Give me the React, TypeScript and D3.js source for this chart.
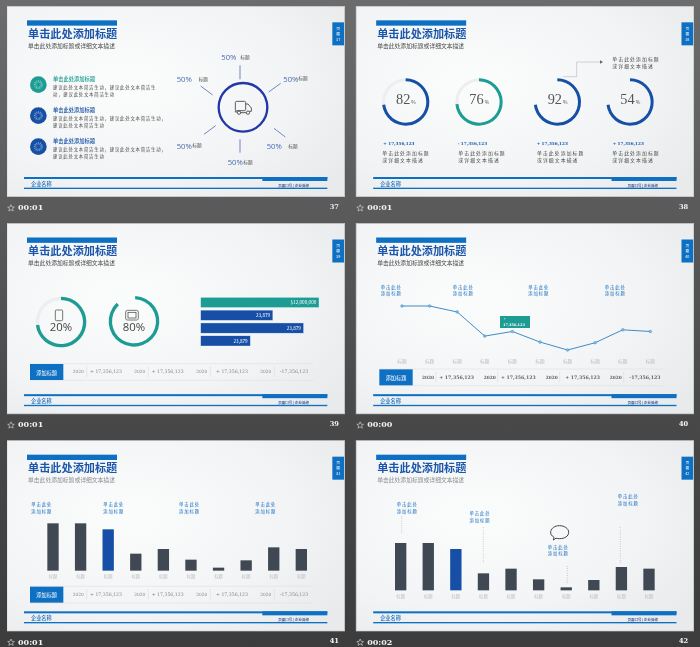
import React from "react";
import * as d3 from "d3";

const slideNumbers = ["37", "38", "39", "40", "41", "42"];
const slideTimes = ["00:01", "00:01", "00:01", "00:00", "00:01", "00:02"];
const slideTitle = "单击此处添加标题";
const slideSubtitle = "单击此处添加标题或详细文本描述";
const companyName = "企业名称";
const footerSlogan = "页面口号 | 企业简称";

const spokeLabels = ["50%", "50%", "50%", "50%", "50%", "50%"];
const listHeading = "单击此处添加标题";
const listBodyA = ["建议此处文本简洁生动，建议此处文本简洁生", "动，建议此处文本简洁生动"];
const listBodyB = ["建议此处文本简洁生动，建议此处文本简洁生动，", "建议此处文本简洁生动"];

const ringLabels = ["82", "76", "92", "54"];
const ringShares = [0.73, 0.735, 0.73, 0.73];
const ringStats = ["+ 17,356,123", "- 17,356,123", "+ 17,356,123", "+ 17,356,123"];
const descLines = ["单击此处添加标题", "或详细文本描述"];

const deviceLabels = ["20%", "80%"];
const deviceShares = [0.73, 0.88];
const hbarValues = [100, 61, 87, 42];
const hbarLabels = ["$12,000,000", "23,879", "23,879", "23,879"];
const tableYears = ["2020", "2020", "2020", "2020"];
const tableValues = ["+ 17,356,123", "+ 17,356,123", "+ 17,356,123", "-17,356,123"];
const tableHead = "添加标题";

const categories = ["c1", "c2", "c3", "c4", "c5", "c6", "c7", "c8", "c9", "c10"];
const seriesValues = [142, 142, 124, 51, 65, 33, 9, 31, 70, 65];
const categoryLabel = "标题";
const calloutLines = ["单击此处", "添加标题"];

const BLUE = "#0d6fc3";
const NAVY = "#1450a5";
const TEAL = "#1a9c93";
const CJK = "'Noto Sans CJK SC', sans-serif";
const SERIF = "'DejaVu Serif', serif";

type TP = { x: number; y: number; s: number; f?: string; a?: any; w?: any; fam?: string; children: any };
function T({ x, y, s, f = "#444", a = "start", w = 400, fam = CJK, children }: TP) {
  return (
    <text x={x} y={y} fontSize={s} fill={f} textAnchor={a} fontWeight={w} fontFamily={fam} dominantBaseline="central">
      {children}
    </text>
  );
}

function Multi({ x, y, s, f, lh, lines, a = "start", w = 400, ls = 0 }: any) {
  return (
    <g>
      {lines.map((l: string, j: number) => (
        <text
          key={j}
          x={x}
          y={y + j * lh}
          fontSize={s}
          fill={f}
          textAnchor={a}
          fontWeight={w}
          fontFamily={CJK}
          letterSpacing={ls}
          dominantBaseline="central"
        >
          {l}
        </text>
      ))}
    </g>
  );
}

function Chrome({ i, cx, cy, row, col, faint }: { i: number; cx: number; cy: number; row: number; col: number; faint?: boolean }) {
  const dx = col ? -2.5 : 0;
  const dy = [0, 6.5, 13][row];
  return (
    <g transform={`translate(${cx},${cy}) scale(${1 / 3}) translate(${dx},${dy})`}>
      <rect x={21} y={19} width={1013} height={571} fill="url(#panel)" stroke="#c9ced3" strokeWidth={2} />
      <rect x={81} y={61} width={270} height={16} fill={BLUE} />
      <T x={84} y={98} s={33.5} f="#1b56aa" w={700}>{slideTitle}</T>
      <T x={84} y={135} s={17.4} f={faint ? "#8a8f94" : "#4a4a4a"}>{slideSubtitle}</T>
      <rect x={997} y={67} width={35} height={69} fill={BLUE} />
      <Multi x={1014.5} y={84} s={11.5} f="#fff" a="middle" lh={17} lines={["页", "面", slideNumbers[i]]} />
      <rect x={72} y={531} width={910} height={6} fill={BLUE} />
      <rect x={787} y={531} width={195} height={12} fill={BLUE} />
      <rect x={72} y={563} width={910} height={4} fill={BLUE} />
      <T x={93} y={551} s={15.5} f="#1b6fbf" w={500}>{companyName}</T>
      <T x={835} y={555} s={10.5} f="#1b3f80" w={500}>{footerSlogan}</T>
      <path
        d="M33 614l3 7 7 .5-5.500 4.500 2 7-6.500-4-6.500 4 2-7-5.500-4.500 7-.5z"
        fill="none"
        stroke="#ddd"
        strokeWidth={1.8}
      />
      <T x={54} y={622} s={24} f="#f2f2f2" w={700} fam={SERIF}>{slideTimes[i]}</T>
      <T x={1017} y={621} s={20} f="#f2f2f2" w={700} a="end" fam={SERIF}>{slideNumbers[i]}</T>
    </g>
  );
}

function Gear({ x, y, r, fill }: { x: number; y: number; r: number; fill: string }) {
  return (
    <g>
      <circle cx={x} cy={y} r={r} fill={fill} />
      <circle cx={x} cy={y} r={r * 0.44} fill="none" stroke="#ffffff" strokeOpacity={0.45} strokeWidth={5} strokeDasharray="3 2.5" />
      <circle cx={x} cy={y} r={r * 0.28} fill="none" stroke="#ffffff" strokeOpacity={0.35} strokeWidth={1.5} />
    </g>
  );
}

function Slide37() {
  const rows = [254, 347, 440];
  const colors = [TEAL, NAVY, NAVY];
  const rays = [
    [720, 196, 720, 238],
    [842, 250, 806, 276],
    [822, 385, 856, 411],
    [720, 418, 720, 458],
    [647, 377, 612, 403],
    [638, 285, 602, 258],
  ];
  const pct = [[664, 172], [530, 236], [850, 236], [800, 437], [530, 437], [683, 486]];
  const tags = [[721, 171], [596, 237], [895, 235], [865, 437], [577, 436], [730, 487]];
  return (
    <g>
      {rows.map((y, k) => (
        <g key={k}>
          <Gear x={115} y={y} r={25} fill={colors[k]} />
          <T x={159} y={y - 17} s={15.8} f={k ? NAVY : TEAL} w={500}>{listHeading}</T>
          <Multi x={159} y={y + 8} s={13.1} ls={2.4} f="#4a4a4a" lh={19} lines={k ? listBodyB : listBodyA} />
        </g>
      ))}
      <circle cx={729} cy={322} r={73} fill="none" stroke="#2238a8" strokeWidth={7} />
      {rays.map((r, k) => (
        <line key={k} x1={r[0]} y1={r[1]} x2={r[2]} y2={r[3]} stroke="#5570b8" strokeWidth={2.5} />
      ))}
      {spokeLabels.map((l, k) => (
        <g key={k}>
          <T x={pct[k][0]} y={pct[k][1]} s={23} f="#4a6db2" fam="'Open Sans', sans-serif">{l}</T>
          <T x={tags[k][0]} y={tags[k][1]} s={14} f="#555">{categoryLabel}</T>
        </g>
      ))}
      <g fill="none" stroke="#444" strokeWidth={2.6} strokeLinejoin="round">
        <rect x={706} y={304} width={31} height={28} rx={4} />
        <path d="M737 312h7l10 12v10h-6M721 338h18M706 332v4h6" />
        <circle cx={717} cy={338} r={5} />
        <circle cx={744} cy={338} r={5} />
      </g>
    </g>
  );
}

function Ring({ x, y, share, color, track, r0, r1, start = 0 }: any) {
  const arc = d3.arc();
  const d = arc({ innerRadius: r0, outerRadius: r1, startAngle: start, endAngle: share * 2 * Math.PI }) as string;
  const t = arc({ innerRadius: r0, outerRadius: r1, startAngle: 0, endAngle: 2 * Math.PI }) as string;
  return (
    <g transform={`translate(${x},${y})`}>
      {track && <path d={t} fill="#eceef0" />}
      <path d={d} fill={color} />
    </g>
  );
}

function Slide38() {
  const xs = [167, 387, 622, 840];
  const colors = [NAVY, TEAL, NAVY, NAVY];
  const statX = [100, 323, 560, 788];
  const descX = [97, 325, 561, 787];
  return (
    <g>
      {xs.map((x, k) => (
        <g key={k}>
          <Ring x={x} y={306} share={ringShares[k]} color={colors[k]} track={k < 2} r0={62} r1={71} />
          <T x={x - 29} y={297} s={43} f="#555" fam="'Liberation Serif', serif">{ringLabels[k]}</T>
          <T x={x + 17} y={304} s={15} f="#555">%</T>
          <T x={statX[k]} y={431} s={12.6} f="#1f5fae" w={700} fam={SERIF}>{ringStats[k]}</T>
          <Multi x={descX[k]} y={456} s={14.4} ls={3.4} f="#4a4a4a" lh={21} lines={descLines} />
        </g>
      ))}
      <path d="M640 230h40v-44h70" fill="none" stroke="#aab0b6" strokeWidth={1.6} />
      <path d="M750 181l9 5-9 5z" fill="#666" />
      <Multi x={787} y={176} s={14.4} ls={3.4} f="#4a4a4a" lh={21} lines={descLines} />
    </g>
  );
}

function Strip({ y, x0, strong }: { y: number; x0: number; strong?: boolean }) {
  const yearX = [218, 403, 589, 781];
  const divX = [260, 445, 631, 823];
  const valX = [270, 455, 648, 840];
  const off = x0 - 90;
  const fill = strong ? "#666" : "#888";
  return (
    <g>
      <line x1={x0} x2={940} y1={y - 24} y2={y - 24} stroke="#dfe2e5" strokeWidth={2} />
      <line x1={x0} x2={940} y1={y + 26} y2={y + 26} stroke="#dfe2e5" strokeWidth={2} />
      <rect x={x0} y={y - 23} width={100} height={48} fill={BLUE} />
      <T x={x0 + 50} y={y + 1} s={15.5} f="#fff" a="middle">{tableHead}</T>
      {tableYears.map((yr, k) => (
        <g key={k}>
          <T x={yearX[k] + off} y={y} s={13} f={fill} w={strong ? 700 : 400} fam={SERIF}>{yr}</T>
          <line x1={divX[k] + off} x2={divX[k] + off} y1={y - 16} y2={y + 16} stroke="#d5d8db" strokeWidth={1.5} />
          <T x={valX[k] + off} y={y} s={14} f={fill} w={strong ? 700 : 400} fam={SERIF}>{tableValues[k]}</T>
        </g>
      ))}
    </g>
  );
}

function Slide39() {
  const bx = d3.scaleLinear().domain([0, 100]).range([602, 957]);
  const ys = d3.scaleBand().domain(hbarLabels.map((_, k) => String(k))).range([247, 393]).paddingInner(0.2);
  const ringX = [183, 402];
  const ringY = [321, 319];
  return (
    <g>
      {ringX.map((x, k) => (
        <g key={k}>
          <Ring x={x} y={ringY[k]} share={deviceShares[k]} color={TEAL} track={k === 0} r0={66} r1={76} start={k ? 0.05 : 0} />
          <T x={x} y={335} s={34} f="#444" a="middle" fam="'Open Sans', sans-serif">{deviceLabels[k]}</T>
        </g>
      ))}
      <g fill="none" stroke="#555" strokeWidth={2.4}>
        <rect x={166} y={285} width={22} height={32} rx={3} />
        <rect x={377} y={286} width={38} height={29} rx={5} />
        <rect x={384} y={292} width={24} height={17} />
      </g>
      {hbarValues.map((v, k) => (
        <g key={k}>
          <rect
            x={bx(0)}
            y={ys(String(k))}
            width={bx(v) - bx(0)}
            height={ys.bandwidth()}
            fill={k ? NAVY : TEAL}
            stroke="#ffffff"
            strokeOpacity={0.7}
            strokeWidth={1.5}
          />
          <T x={bx(v) - 8} y={(ys(String(k)) as number) + ys.bandwidth() / 2} s={14} f="#fff" a="end">{hbarLabels[k]}</T>
        </g>
      ))}
      <Strip y={470} x0={90} />
    </g>
  );
}

function Callout({ x, y, a = "start" }: { x: number; y: number; a?: string }) {
  return <Multi x={x} y={y} s={13} ls={2.8} f="#1b6fbf" a={a} lh={19} lines={calloutLines} />;
}

function Slide40() {
  const x = d3.scalePoint().domain(categories).range([156, 901]);
  const y = d3.scaleLinear().domain([9, 142]).range([405, 273]);
  const line = d3.line<number>().x((_, k) => x(categories[k]) as number).y((v) => y(v));
  return (
    <g>
      {[92, 308, 535, 764].map((cxx, k) => (
        <Callout key={k} x={cxx} y={216} />
      ))}
      <path d={line(seriesValues) as string} fill="none" stroke="#3f8cc8" strokeWidth={3} />
      {seriesValues.map((v, k) => (
        <g key={k}>
          <circle cx={x(categories[k])} cy={y(v)} r={4} fill="#8dbbe0" stroke="#3f8cc8" strokeWidth={1.5} />
          <T x={x(categories[k]) as number} y={438} s={14} f="#bcc0c4" a="middle">{categoryLabel}</T>
        </g>
      ))}
      <rect x={450} y={303} width={90} height={36} fill={TEAL} />
      <T x={461} y={311} s={10} f="#fff">+</T>
      <T x={459} y={329} s={10.5} f="#fff" w={700} fam={SERIF}>17,356,123</T>
      <Strip y={486} x0={88} strong />
    </g>
  );
}

function Bars({ x0, x1, base, labelY }: { x0: number; x1: number; base: number; labelY: number }) {
  const x = d3.scalePoint().domain(categories).range([x0, x1]);
  const y = d3.scaleLinear().domain([0, 142]).range([base, base - 142]);
  const bw = 34;
  return (
    <g>
      {seriesValues.map((v, k) => (
        <g key={k}>
          <rect
            x={(x(categories[k]) as number) - bw / 2}
            y={y(v)}
            width={bw}
            height={base - y(v)}
            fill={k === 2 ? NAVY : "#3f4a52"}
          />
          <T x={x(categories[k]) as number} y={labelY} s={13} f="#bcc0c4" a="middle">{categoryLabel}</T>
        </g>
      ))}
    </g>
  );
}

function Slide41() {
  return (
    <g>
      {[94, 310, 537, 766].map((cxx, k) => (
        <Callout key={k} x={cxx} y={223} />
      ))}
      <Bars x0={159} x1={904} base={422} labelY={439} />
      <Strip y={493} x0={90} />
    </g>
  );
}

function Slide42() {
  const notes = [[172, 223], [390, 250], [625, 350], [835, 199]];
  const dots = [[155, 258, 310], [400, 292, 398], [652, 408, 460], [811, 292, 400]];
  return (
    <g>
      {notes.map((n, k) => (
        <Callout key={k} x={n[0]} y={n[1]} a="middle" />
      ))}
      {dots.map((d, k) => (
        <line key={k} x1={d[0]} x2={d[0]} y1={d[1]} y2={d[2]} stroke="#888" strokeWidth={1.8} strokeDasharray="2 5" />
      ))}
      <path
        d="M612 322c-8-5-11-11-10-17 2-11 13-18 26-18 15 0 28 8 28 20s-13 19-27 19c-4 0-8-.5-11-1.500l-8 5.500z"
        fill="none"
        stroke="#444"
        strokeWidth={3}
      />
      <Bars x0={152} x1={897} base={481} labelY={498} />
    </g>
  );
}

const contents = [Slide37, Slide38, Slide39, Slide40, Slide41, Slide42];

export default function App() {
  return (
    <svg width={700} height={647} viewBox="0 0 700 647" style={{ position: "fixed", left: 0, top: 0, display: "block" }}>
      <defs>
        <linearGradient id="bg" x1="0" y1="0" x2="0" y2="1">
          <stop offset="0" stopColor="#6c6c6c" />
          <stop offset="0.65" stopColor="#484848" />
          <stop offset="1" stopColor="#3c3c3c" />
        </linearGradient>
        <radialGradient id="panel" cx="0.35" cy="0.4" r="0.8">
          <stop offset="0" stopColor="#fbfcfc" />
          <stop offset="0.6" stopColor="#f3f4f5" />
          <stop offset="1" stopColor="#e8eaec" />
        </radialGradient>
        <filter id="soft" x="0" y="0" width="1" height="1">
          <feGaussianBlur stdDeviation="0.22" />
        </filter>
      </defs>
      <rect width={700} height={647} fill="url(#bg)" />
      <g filter="url(#soft)">
        {contents.map((C, i) => {
          const col = i % 2;
          const row = Math.floor(i / 2);
          const cx = col * 350;
          const cy = [0, 215, 430][row];
          return (
            <g key={i}>
              <Chrome i={i} cx={cx} cy={cy} row={row} col={col} faint={i >= 4} />
              <g transform={`translate(${cx},${cy}) scale(${1 / 3})`}>
                <C />
              </g>
            </g>
          );
        })}
      </g>
    </svg>
  );
}
